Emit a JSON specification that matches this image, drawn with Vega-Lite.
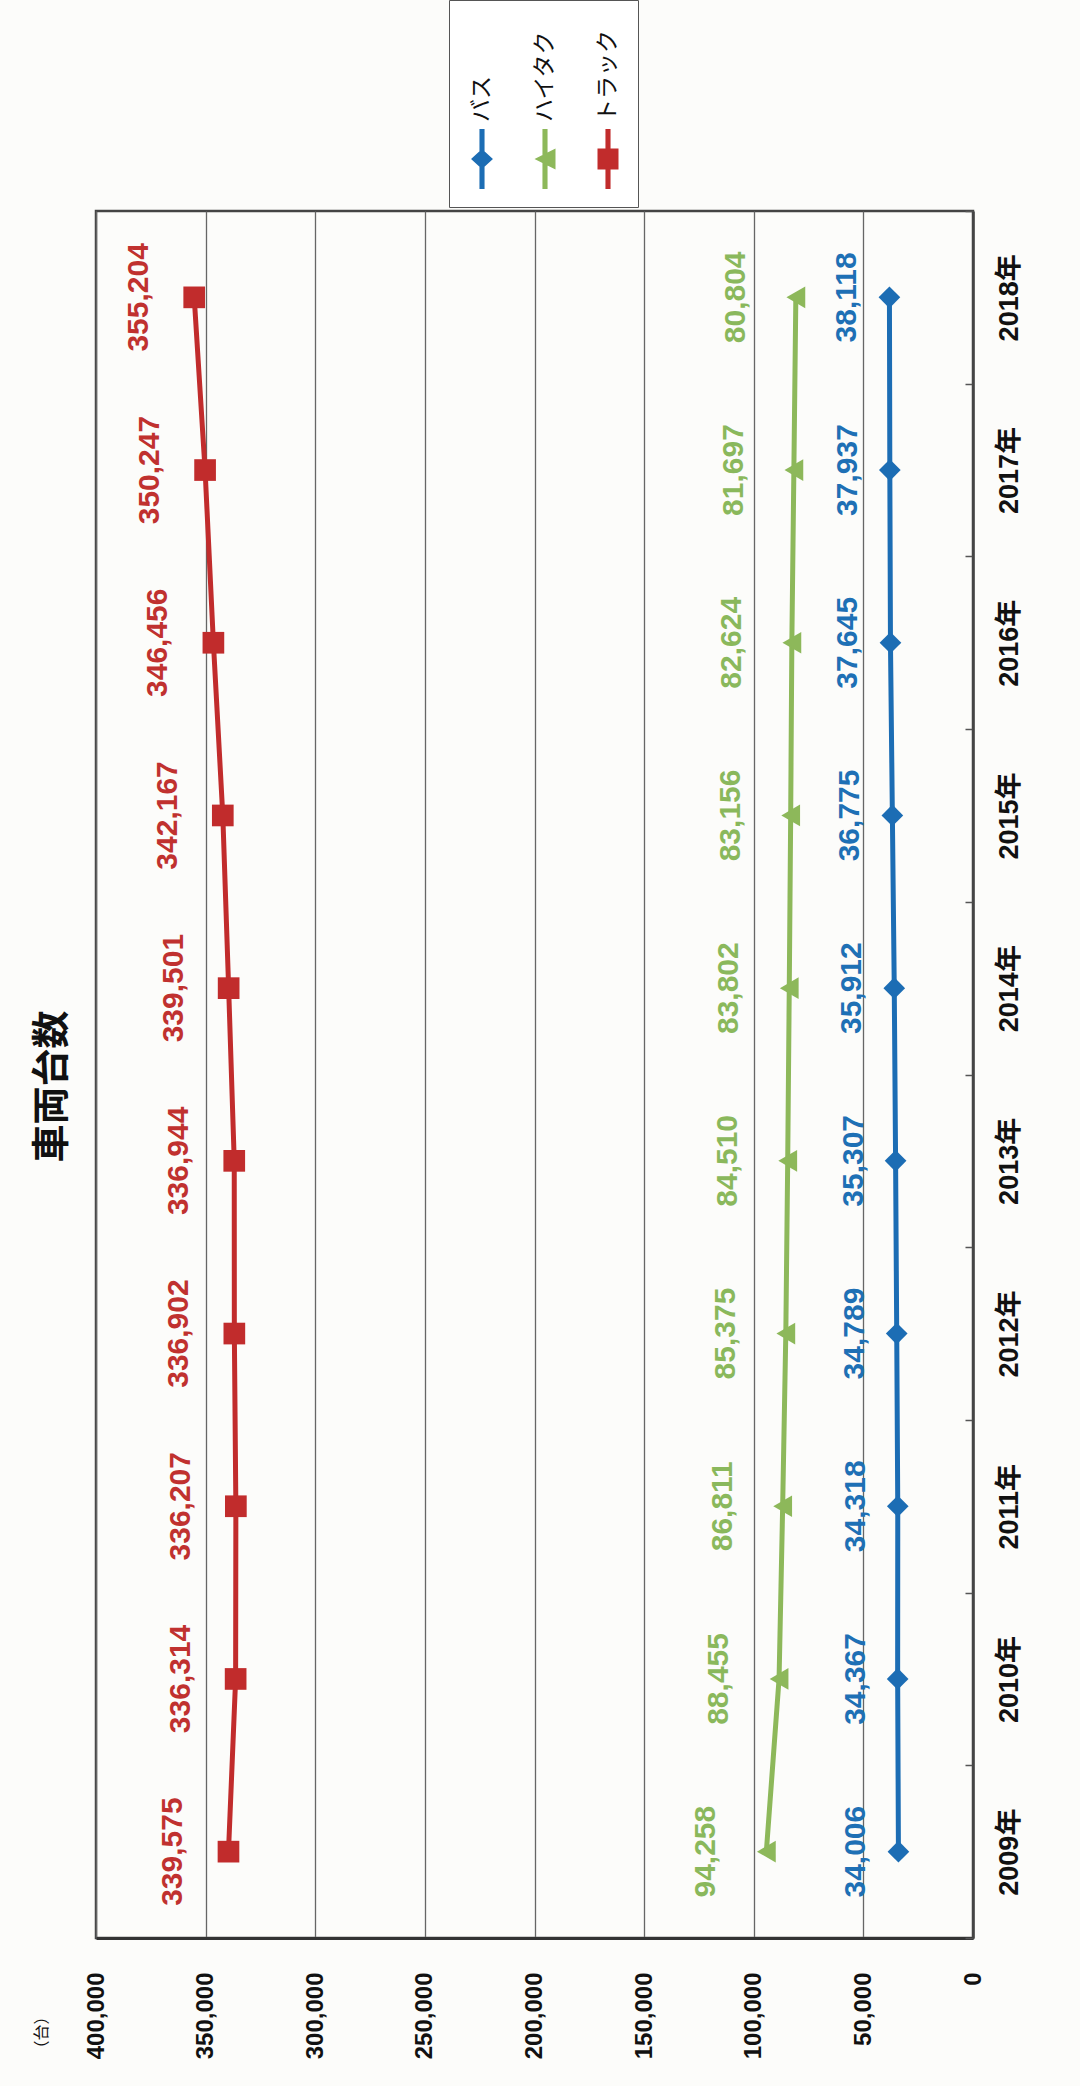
{
  "$schema": "https://vega.github.io/schema/vega-lite/v6.json",
  "width": 877,
  "height": 1727,
  "autosize": {"type": "none"},
  "padding": {"left": 96, "top": 211, "right": 107, "bottom": 148},
  "background": "#fcfcfa",
  "title": {"text": "車両台数", "orient": "left", "anchor": "middle", "font": "Noto Sans CJK JP", "fontSize": 38, "fontWeight": "bold", "color": "#111111", "offset": -39, "dx": -12},
  "data": {"values": [
    {"year": "2009年", "series": "バス", "value": 34006},
    {"year": "2010年", "series": "バス", "value": 34367},
    {"year": "2011年", "series": "バス", "value": 34318},
    {"year": "2012年", "series": "バス", "value": 34789},
    {"year": "2013年", "series": "バス", "value": 35307},
    {"year": "2014年", "series": "バス", "value": 35912},
    {"year": "2015年", "series": "バス", "value": 36775},
    {"year": "2016年", "series": "バス", "value": 37645},
    {"year": "2017年", "series": "バス", "value": 37937},
    {"year": "2018年", "series": "バス", "value": 38118},
    {"year": "2009年", "series": "ハイタク", "value": 94258},
    {"year": "2010年", "series": "ハイタク", "value": 88455},
    {"year": "2011年", "series": "ハイタク", "value": 86811},
    {"year": "2012年", "series": "ハイタク", "value": 85375},
    {"year": "2013年", "series": "ハイタク", "value": 84510},
    {"year": "2014年", "series": "ハイタク", "value": 83802},
    {"year": "2015年", "series": "ハイタク", "value": 83156},
    {"year": "2016年", "series": "ハイタク", "value": 82624},
    {"year": "2017年", "series": "ハイタク", "value": 81697},
    {"year": "2018年", "series": "ハイタク", "value": 80804},
    {"year": "2009年", "series": "トラック", "value": 339575},
    {"year": "2010年", "series": "トラック", "value": 336314},
    {"year": "2011年", "series": "トラック", "value": 336207},
    {"year": "2012年", "series": "トラック", "value": 336902},
    {"year": "2013年", "series": "トラック", "value": 336944},
    {"year": "2014年", "series": "トラック", "value": 339501},
    {"year": "2015年", "series": "トラック", "value": 342167},
    {"year": "2016年", "series": "トラック", "value": 346456},
    {"year": "2017年", "series": "トラック", "value": 350247},
    {"year": "2018年", "series": "トラック", "value": 355204}
  ]},
  "encoding": {
    "x": {"field": "value", "type": "quantitative",
      "scale": {"domain": [0, 400000], "reverse": true, "nice": false, "zero": true},
      "axis": {"orient": "bottom", "values": [0, 50000, 100000, 150000, 200000, 250000, 300000, 350000, 400000], "format": ",d",
        "labelAngle": 270, "labelAlign": "right", "labelBaseline": "middle", "labelPadding": 34, "labelFont": "Liberation Sans", "labelFontSize": 24, "labelFontWeight": "bold", "labelColor": "#111111", "labelOverlap": false, "labelFlush": false,
        "ticks": false, "grid": true, "gridColor": "#666666", "gridWidth": 1.3, "domainColor": "#333333", "domainWidth": 3,
        "title": "（台）", "titleX": -55, "titleY": 70, "titleAngle": 270, "titleAlign": "right", "titleBaseline": "middle", "titleFont": "Noto Sans CJK JP", "titleFontSize": 16, "titleFontWeight": "normal", "titleColor": "#111111"}},
    "y": {"field": "year", "type": "ordinal", "sort": "descending",
      "scale": {"type": "band", "paddingInner": 0, "paddingOuter": 0},
      "axis": {"orient": "right", "tickBand": "extent", "labelAngle": 270, "labelAlign": "center", "labelBaseline": "top", "labelPadding": 31, "labelFont": "Liberation Sans, Noto Sans CJK JP", "labelFontSize": 27, "labelFontWeight": "bold", "labelColor": "#111111",
        "ticks": true, "tickSize": -8, "tickColor": "#555555", "tickWidth": 1.5, "domainColor": "#444444", "domainWidth": 2.5, "grid": false, "title": null}}
  },
  "layer": [
    {"mark": {"type": "line", "strokeWidth": 5},
     "encoding": {"color": {"field": "series", "type": "nominal",
        "scale": {"domain": ["バス", "ハイタク", "トラック"], "range": ["#1c6db4", "#8db85a", "#c12c2c"]},
        "legend": {"orient": "none", "legendX": 353, "legendY": -211, "direction": "horizontal",
          "title": "\u3000", "titleOrient": "top", "titleFontSize": 10, "titlePadding": 116,
          "fillColor": "#ffffff", "strokeColor": "#555555", "padding": 18, "columnPadding": 35,
          "labelFont": "Noto Sans CJK JP", "labelFontSize": 23, "labelColor": "#111111", "labelOffset": -15, "labelLimit": 300,
          "symbolSize": 900, "symbolStrokeWidth": 0,
          "labelExpr": "datum.label == 'バス' ? 'バス\u3000\u3000' : datum.label",
          "encoding": {
            "labels": {"angle": {"value": -90}, "align": {"value": "left"}, "baseline": {"value": "middle"}, "dx": {"value": 37}},
            "symbols": {
              "shape": {"value": {"expr": "datum.value === 'バス' ? 'M-0.17,-2L0.17,-2L0.17,2L-0.17,2Z M-0.73,0L0,-0.67L0.73,0L0,0.67Z' : datum.value === 'ハイタク' ? 'M-0.17,-2L0.17,-2L0.17,2L-0.17,2Z M-0.7,0L0.7,-0.7L0.7,0.7Z' : 'M-0.17,-2L0.17,-2L0.17,2L-0.17,2Z M-0.7,-0.7L0.7,-0.7L0.7,0.7L-0.7,0.7Z'"}},
              "fill": {"value": {"expr": "scale('color', datum.value)"}},
              "strokeWidth": {"value": 0},
              "opacity": {"value": 1}
            }
          }}}}},
    {"mark": {"type": "point", "filled": true, "size": 470, "opacity": 1},
     "encoding": {"color": {"field": "series", "type": "nominal", "legend": null},
       "shape": {"field": "series", "type": "nominal", "scale": {"domain": ["トラック", "ハイタク", "バス"], "range": ["square", "triangle-left", "diamond"]}, "legend": null}}},
    {"transform": [{"filter": "datum.series === 'トラック'"}],
     "mark": {"type": "text", "angle": 270, "align": "center", "baseline": "middle", "dy": -55, "font": "Liberation Sans Narrow, Liberation Sans", "fontSize": 30, "fontWeight": "bold", "color": "#c0312f"},
     "encoding": {"text": {"field": "value", "type": "quantitative", "format": ","}}},
    {"transform": [{"filter": "datum.series === 'ハイタク'"}],
     "mark": {"type": "text", "angle": 270, "align": "center", "baseline": "middle", "dy": -60, "font": "Liberation Sans Narrow, Liberation Sans", "fontSize": 30, "fontWeight": "bold", "color": "#8ab85c"},
     "encoding": {"text": {"field": "value", "type": "quantitative", "format": ","}}},
    {"transform": [{"filter": "datum.series === 'バス'"}],
     "mark": {"type": "text", "angle": 270, "align": "center", "baseline": "middle", "dy": -42, "font": "Liberation Sans Narrow, Liberation Sans", "fontSize": 30, "fontWeight": "bold", "color": "#1e70b5"},
     "encoding": {"text": {"field": "value", "type": "quantitative", "format": ","}}}
  ],
  "config": {
    "font": "Liberation Sans",
    "view": {"stroke": "#444444", "strokeWidth": 2.5}
  }
}
